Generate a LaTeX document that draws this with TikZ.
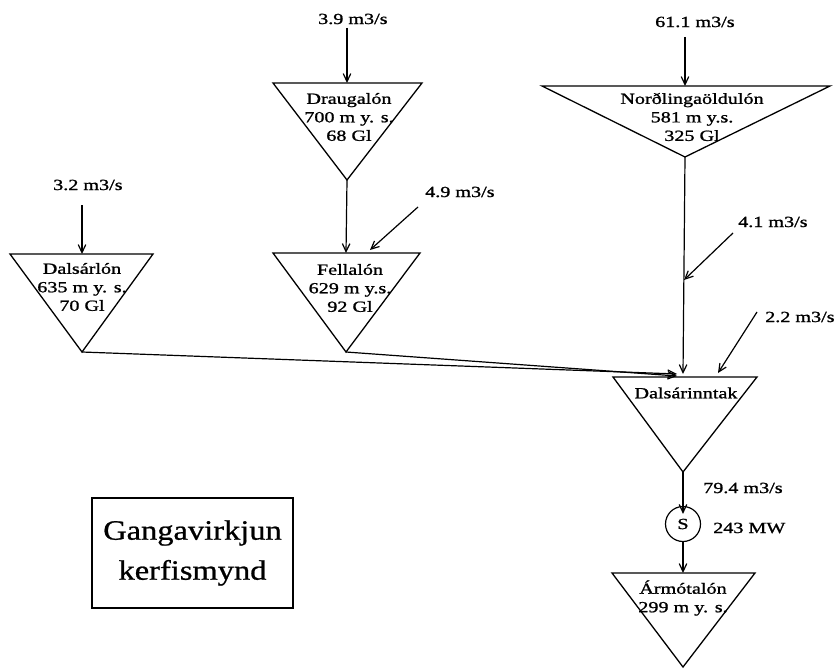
\documentclass[tikz,border=0pt]{standalone}
\usepackage{fontspec}
\setmainfont{Liberation Serif}[FakeStretch=1.3,FakeBold=1.2]
\newfontfamily\titlefont{Liberation Serif}[FakeStretch=1.16,FakeBold=0.8]
\usetikzlibrary{arrows.meta}
\begin{document}
\begin{tikzpicture}[x=1pt,y=-1pt,
  tri/.style={draw, line width=1.3pt, line join=miter},
  flow/.style={draw, line width=1.2pt, -{Straight Barb[length=8pt,width=7.5pt]}},
  lbl/.style={font=\fontsize{15.5}{17}\selectfont, inner sep=0pt, anchor=west},
  txt/.style={font=\fontsize{15.5}{18.5}\selectfont, align=center, inner sep=0pt},
  titlebox/.style={draw, line width=1.3pt, minimum width=201pt, minimum height=110pt, align=center, font=\titlefont\fontsize{28}{40}\selectfont, inner sep=0pt}]
\useasboundingbox (0,0) rectangle (838,669);

% reservoirs (inverted triangles)
\draw[tri] (10,254) -- (153,254) -- (82,352) -- cycle;
\coordinate (dl-top) at (82,254); \coordinate (dl-apex) at (82,352);
\node[txt] (dl) at (82,287) {Dalsárlón\\635 m y. s.\\70 Gl};

\draw[tri] (273,83) -- (422,83) -- (347,180) -- cycle;
\coordinate (dr-top) at (347,83); \coordinate (dr-apex) at (347,180);
\node[txt] (dr) at (349,117) {Draugalón\\700 m y. s.\\68 Gl};

\draw[tri] (273,253) -- (420,253) -- (346,352) -- cycle;
\coordinate (fe-top) at (346,253); \coordinate (fe-apex) at (346,352);
\coordinate (fe-side) at (370,250);
\node[txt] (fe) at (350,288) {Fellalón\\629 m y.s.\\92 Gl};

\draw[tri] (542,86) -- (830,86) -- (685,157) -- cycle;
\coordinate (no-top) at (685,86); \coordinate (no-apex) at (685,157);
\node[txt] (no) at (692,117) {Norðlingaöldulón\\581 m y.s.\\325 Gl};

\draw[tri] (613,377) -- (757,377) -- (683,472) -- cycle;
\coordinate (di-in) at (683,374); \coordinate (di-apex) at (683,472);
\coordinate (di-left) at (677,374); \coordinate (di-right) at (718,373);
\node[txt] (di) at (686,393) {Dalsárinntak};

\draw[tri] (612,573) -- (755,573) -- (683,667) -- cycle;
\coordinate (ar-top) at (683,573);
\node[txt] (ar) at (683,598) {Ármótalón\\299 m y. s.};

% power station
\node[draw, circle, line width=1.2pt, minimum size=35pt, inner sep=0pt, font=\fontsize{15.5}{17}\selectfont] (s) at (683,524) {S};

% inflow labels and their arrows
\node[lbl] (q32) at (53,185) {3.2 m3/s};
\coordinate (q32s) at (82,205);
\draw[flow] (q32s) -- (dl-top);

\node[lbl] (q39) at (318,19) {3.9 m3/s};
\coordinate (q39s) at (347,28);
\draw[flow] (q39s) -- (dr-top);

\node[lbl] (q611) at (655,22) {61.1 m3/s};
\coordinate (q611s) at (685,37);
\draw[flow] (q611s) -- (no-top);

\node[lbl] (q49) at (425,192) {4.9 m3/s};
\coordinate (q49s) at (418,207);
\draw[flow] (q49s) -- (fe-side);

\node[lbl] (q41) at (738,222) {4.1 m3/s};
\coordinate (q41s) at (733,233); \coordinate (q41e) at (684,280);
\draw[flow] (q41s) -- (q41e);

\node[lbl] (q22) at (765,317) {2.2 m3/s};
\coordinate (q22s) at (757,312);
\draw[flow] (q22s) -- (di-right);

\node[lbl] (q794) at (703,488) {79.4 m3/s};
\node[lbl] (mw) at (713,528) {243 MW};

% connections
\draw[flow] (dr-apex) -- (fe-top);
\draw[flow] (no-apex) -- (di-in);
\draw[flow] (dl-apex) -- (di-left);
\draw[flow] (fe-apex) -- ([yshift=-2pt]di-left);
\draw[flow] (di-apex) -- ([yshift=-8pt]s.north);
\draw[flow] (s) -- (ar-top);

% title box
\node[titlebox] (title) at (192.5,553) {Gangavirkjun\\kerfismynd};
\end{tikzpicture}
\end{document}
